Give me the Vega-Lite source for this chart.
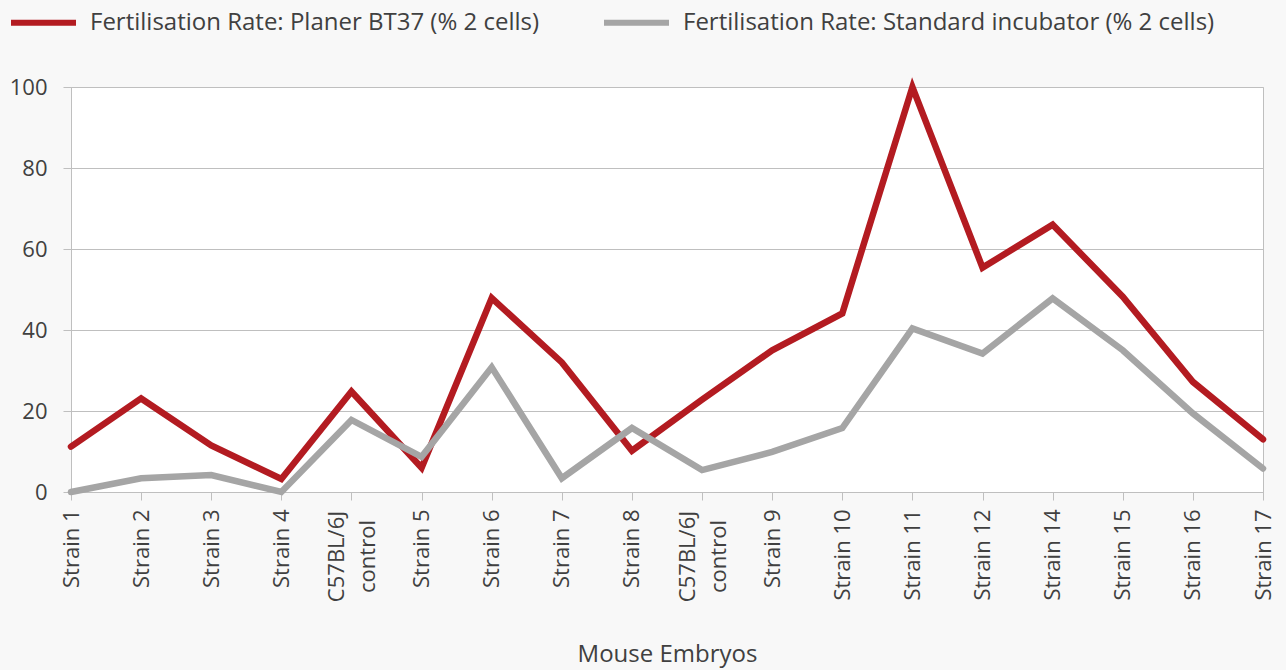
{
  "$schema": "https://vega.github.io/schema/vega-lite/v6.json",
  "autosize": {"type": "none"},
  "width": 1192,
  "height": 405,
  "padding": {"left": 71, "top": 87, "right": 23, "bottom": 178},
  "background": "#f8f8f8",
  "view": {"fill": "#ffffff", "stroke": "#bfbfbf", "strokeWidth": 1},
  "config": {
    "font": "Open Sans",
    "axis": {"labelColor": "#404040", "titleColor": "#404040", "labelFont": "Open Sans", "titleFont": "Open Sans"},
    "legend": {"labelFont": "Open Sans"}
  },
  "data": {"values": [
    {"cat": "Strain 1", "series": "Fertilisation Rate: Planer BT37 (% 2 cells)", "value": 11.2},
    {"cat": "Strain 2", "series": "Fertilisation Rate: Planer BT37 (% 2 cells)", "value": 23.1},
    {"cat": "Strain 3", "series": "Fertilisation Rate: Planer BT37 (% 2 cells)", "value": 11.5},
    {"cat": "Strain 4", "series": "Fertilisation Rate: Planer BT37 (% 2 cells)", "value": 3.2},
    {"cat": "C57BL/6J control (1)", "series": "Fertilisation Rate: Planer BT37 (% 2 cells)", "value": 24.8},
    {"cat": "Strain 5", "series": "Fertilisation Rate: Planer BT37 (% 2 cells)", "value": 6},
    {"cat": "Strain 6", "series": "Fertilisation Rate: Planer BT37 (% 2 cells)", "value": 47.9},
    {"cat": "Strain 7", "series": "Fertilisation Rate: Planer BT37 (% 2 cells)", "value": 32},
    {"cat": "Strain 8", "series": "Fertilisation Rate: Planer BT37 (% 2 cells)", "value": 10.2},
    {"cat": "C57BL/6J control (2)", "series": "Fertilisation Rate: Planer BT37 (% 2 cells)", "value": 22.8},
    {"cat": "Strain 9", "series": "Fertilisation Rate: Planer BT37 (% 2 cells)", "value": 35},
    {"cat": "Strain 10", "series": "Fertilisation Rate: Planer BT37 (% 2 cells)", "value": 44.1},
    {"cat": "Strain 11", "series": "Fertilisation Rate: Planer BT37 (% 2 cells)", "value": 100},
    {"cat": "Strain 12", "series": "Fertilisation Rate: Planer BT37 (% 2 cells)", "value": 55.4},
    {"cat": "Strain 14", "series": "Fertilisation Rate: Planer BT37 (% 2 cells)", "value": 66},
    {"cat": "Strain 15", "series": "Fertilisation Rate: Planer BT37 (% 2 cells)", "value": 48.2},
    {"cat": "Strain 16", "series": "Fertilisation Rate: Planer BT37 (% 2 cells)", "value": 27.2},
    {"cat": "Strain 17", "series": "Fertilisation Rate: Planer BT37 (% 2 cells)", "value": 13},
    {"cat": "Strain 1", "series": "Fertilisation Rate: Standard incubator (% 2 cells)", "value": 0},
    {"cat": "Strain 2", "series": "Fertilisation Rate: Standard incubator (% 2 cells)", "value": 3.4},
    {"cat": "Strain 3", "series": "Fertilisation Rate: Standard incubator (% 2 cells)", "value": 4.2},
    {"cat": "Strain 4", "series": "Fertilisation Rate: Standard incubator (% 2 cells)", "value": 0},
    {"cat": "C57BL/6J control (1)", "series": "Fertilisation Rate: Standard incubator (% 2 cells)", "value": 17.8},
    {"cat": "Strain 5", "series": "Fertilisation Rate: Standard incubator (% 2 cells)", "value": 8.7},
    {"cat": "Strain 6", "series": "Fertilisation Rate: Standard incubator (% 2 cells)", "value": 30.8},
    {"cat": "Strain 7", "series": "Fertilisation Rate: Standard incubator (% 2 cells)", "value": 3.4},
    {"cat": "Strain 8", "series": "Fertilisation Rate: Standard incubator (% 2 cells)", "value": 15.8},
    {"cat": "C57BL/6J control (2)", "series": "Fertilisation Rate: Standard incubator (% 2 cells)", "value": 5.4},
    {"cat": "Strain 9", "series": "Fertilisation Rate: Standard incubator (% 2 cells)", "value": 9.9},
    {"cat": "Strain 10", "series": "Fertilisation Rate: Standard incubator (% 2 cells)", "value": 15.8},
    {"cat": "Strain 11", "series": "Fertilisation Rate: Standard incubator (% 2 cells)", "value": 40.4},
    {"cat": "Strain 12", "series": "Fertilisation Rate: Standard incubator (% 2 cells)", "value": 34.2},
    {"cat": "Strain 14", "series": "Fertilisation Rate: Standard incubator (% 2 cells)", "value": 47.8},
    {"cat": "Strain 15", "series": "Fertilisation Rate: Standard incubator (% 2 cells)", "value": 35},
    {"cat": "Strain 16", "series": "Fertilisation Rate: Standard incubator (% 2 cells)", "value": 19.4},
    {"cat": "Strain 17", "series": "Fertilisation Rate: Standard incubator (% 2 cells)", "value": 5.8}
  ]},
  "encoding": {
    "x": {
      "field": "cat", "type": "ordinal", "sort": null,
      "scale": {"type": "point", "padding": 0},
      "axis": {
        "title": "Mouse Embryos",
        "titleFontSize": 24, "titleFontWeight": "normal", "titlePadding": 41,
        "labelFontSize": 22, "labelAngle": 270,
        "labelAlign": {"condition": {"test": "indexof(datum.value, 'C57') >= 0", "value": "center"}, "value": "right"},
        "labelBaseline": "middle",
        "labelPadding": {"condition": {"test": "indexof(datum.value, 'C57') >= 0", "value": 56}, "value": 9},
        "labelOffset": {"condition": {"test": "indexof(datum.value, 'C57') >= 0", "value": -15}, "value": 0},
        "labelLineHeight": 31,
        "labelExpr": "indexof(datum.value, 'C57') >= 0 ? ['C57BL/6J', 'control'] : datum.value",
        "tickSize": 8, "tickColor": "#bfbfbf", "domainColor": "#bfbfbf",
        "grid": false, "labelOverlap": false
      }
    },
    "y": {
      "field": "value", "type": "quantitative",
      "scale": {"domain": [0, 100], "nice": false},
      "axis": {
        "title": null, "values": [0, 20, 40, 60, 80, 100],
        "labelFontSize": 22, "labelPadding": 16, "tickSize": 8,
        "tickColor": "#bfbfbf", "domainColor": "#bfbfbf",
        "gridColor": "#bfbfbf", "gridWidth": 1
      }
    },
    "color": {
      "field": "series", "type": "nominal",
      "scale": {
        "domain": ["Fertilisation Rate: Planer BT37 (% 2 cells)", "Fertilisation Rate: Standard incubator (% 2 cells)"],
        "range": ["#b31b21", "#a5a5a5"]
      },
      "legend": {
        "title": null, "orient": "none", "direction": "horizontal",
        "legendX": -63, "legendY": -100,
        "symbolType": "stroke", "symbolSize": 4225, "symbolStrokeWidth": 6,
        "labelFontSize": 24, "labelColor": "#404040", "labelOffset": 11,
        "columnPadding": 52, "labelLimit": 800
      }
    }
  },
  "layer": [
    {
      "transform": [{"filter": "datum.series === 'Fertilisation Rate: Planer BT37 (% 2 cells)'"}],
      "mark": {"type": "line", "strokeWidth": 6.5, "strokeJoin": "miter", "strokeCap": "round"}
    },
    {
      "transform": [{"filter": "datum.series === 'Fertilisation Rate: Standard incubator (% 2 cells)'"}],
      "mark": {"type": "line", "strokeWidth": 6.5, "strokeJoin": "miter", "strokeCap": "round"}
    }
  ]
}
